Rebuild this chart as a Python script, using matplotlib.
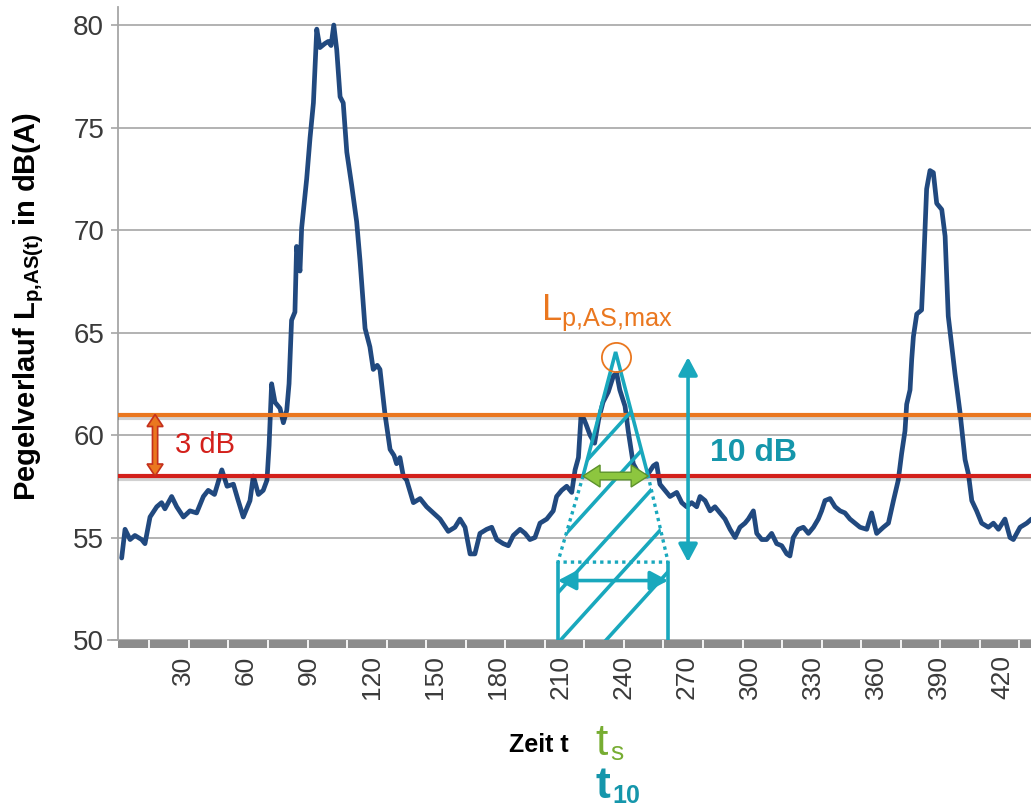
import numpy as np
import matplotlib
matplotlib.use("Agg")
import matplotlib.pyplot as plt
from matplotlib.patches import Polygon, FancyArrowPatch
from matplotlib.transforms import IdentityTransform
from matplotlib import font_manager
import matplotlib.patheffects as pe

plt.rcParams["font.family"] = ["Liberation Sans", "DejaVu Sans"]
plt.rcParams["mathtext.fontset"] = "custom"
plt.rcParams["mathtext.rm"] = "Liberation Sans"
plt.rcParams["mathtext.it"] = "Liberation Sans"
plt.rcParams["mathtext.bf"] = "Liberation Sans:bold"

_names = {f.name for f in font_manager.fontManager.ttflist}
NARROW = "Liberation Sans Narrow" if "Liberation Sans Narrow" in _names else "Liberation Sans"

# ---- measured sound level L_p,AS(t) ----
time_s = [0.8, 2.4, 4.8, 7.1, 10.3, 11.9, 14.3, 17.5, 19.8, 21.4, 24.6, 27.0, 30.2,
          33.3, 36.5, 39.7, 42.0, 45.0, 48.5, 51.0, 54.0, 56.0, 58.7, 61.9, 63.5,
          65.9, 68.2, 70.0, 71.0, 72.2, 73.8, 76.2, 77.8, 79.4, 80.5, 81.7, 83.3,
          84.1, 85.7, 86.5, 88.9, 90.5, 92.1, 93.7, 95.2, 97.6, 99.2, 100.5, 101.8,
          103.2, 104.8, 106.3, 108.0, 110.3, 112.7, 114.3, 116.7, 119.0, 120.6,
          122.5, 123.8, 126.2, 128.6, 130.5, 131.7, 133.3, 134.9, 136.5, 139.7,
          142.9, 146.0, 149.2, 152.4, 156.3, 159.5, 161.9, 164.3, 166.7, 169.0,
          171.4, 174.6, 177.0, 179.4, 182.5, 184.9, 187.3, 190.5, 192.9, 195.2,
          197.6, 200.0, 203.2, 206.3, 207.9, 210.3, 212.7, 215.1, 216.7, 218.3,
          219.5, 220.8, 222.0, 223.8, 226.0, 228.0, 230.0, 232.5, 235.0, 236.5,
          238.0, 240.5, 242.0, 244.4, 247.6, 250.8, 254.0, 255.5, 257.1, 259.5,
          261.9, 265.1, 267.5, 269.8, 272.2, 274.6, 276.2, 278.6, 281.0, 283.3,
          285.7, 288.1, 290.5, 292.9, 295.2, 297.6, 299.2, 301.6, 303.2, 305.6,
          307.9, 310.3, 312.7, 315.1, 317.5, 319.0, 320.6, 323.0, 325.4, 327.8,
          330.2, 332.5, 334.1, 335.7, 338.1, 340.5, 342.9, 345.2, 347.6, 350.0,
          352.4, 355.6, 357.9, 360.3, 363.5, 365.9, 368.3, 370.6, 372.2, 373.8,
          374.6, 376.2, 377.0, 377.8, 379.4, 381.7, 382.5, 384.1, 385.7, 387.3,
          388.9, 391.3, 392.9, 394.4, 397.6, 400.0, 402.4, 404.0, 405.6, 407.9,
          410.3, 413.5, 415.9, 418.3, 421.4, 423.8, 425.4, 428.6, 431.8, 434.0]
level_db = [54.0, 55.4, 54.9, 55.1, 54.9, 54.7, 56.0, 56.5, 56.7, 56.4, 57.0, 56.5, 56.0,
            56.3, 56.2, 57.0, 57.3, 57.1, 58.3, 57.5, 57.6, 56.9, 56.0, 56.8, 58.0,
            57.1, 57.3, 57.8, 59.5, 62.5, 61.6, 61.3, 60.6, 61.2, 62.5, 65.6, 66.0,
            69.2, 68.0, 70.1, 72.5, 74.5, 76.2, 79.8, 78.9, 79.1, 79.2, 79.0, 80.0,
            78.8, 76.5, 76.2, 73.8, 72.2, 70.4, 68.5, 65.2, 64.3, 63.2,
            63.4, 63.2, 61.0, 59.3, 59.0, 58.6, 58.9, 58.0, 57.8, 56.7,
            56.9, 56.5, 56.2, 55.9, 55.3, 55.5, 55.9, 55.5, 54.2, 54.2,
            55.2, 55.4, 55.5, 54.9, 54.7, 54.6, 55.1, 55.4, 55.2, 54.9,
            55.0, 55.7, 55.9, 56.3, 57.0, 57.3, 57.5, 57.2, 58.3, 58.9,
            60.9, 60.8, 60.5, 60.0, 59.6, 60.8, 61.6, 62.1, 62.9, 63.0,
            62.2, 61.4, 60.2, 58.6, 58.0, 58.0, 58.5, 58.6, 57.6, 57.3,
            57.0, 57.2, 56.7, 56.5, 56.7, 56.5, 57.0, 56.8, 56.3, 56.5,
            56.2, 55.9, 55.4, 55.0, 55.5, 55.7, 55.9, 56.3, 55.2, 54.9,
            54.9, 55.2, 54.7, 54.6, 54.2, 54.1, 55.0, 55.4, 55.5, 55.2,
            55.5, 55.9, 56.3, 56.8, 56.9, 56.5, 56.3, 56.2, 55.9, 55.7,
            55.5, 55.4, 56.2, 55.2, 55.5, 55.7, 56.8, 57.8, 59.1, 60.2,
            61.5, 62.2, 63.7, 64.8, 65.9, 66.1, 67.9, 72.0, 72.9, 72.8,
            71.3, 71.0, 69.7, 65.8, 63.0, 61.1, 58.8, 58.1, 56.8, 56.3,
            55.7, 55.5, 55.7, 55.4, 55.9, 55.0, 54.9, 55.5, 55.7, 55.9]

x_ticks = list(range(30, 421, 30))
y_ticks = [50, 55, 60, 65, 70, 75, 80]

# characteristic levels / times of the marked event
L_REF = 61.0            # orange reference level
L_THR = L_REF - 3.0     # red threshold, 3 dB below
L_MAX = 63.8            # L_p,AS,max of the event
T_MAX = 236.0
L_10 = L_MAX - 10.0     # 10 dB below maximum
TS = (220.5, 251.5)     # t_s: time above the threshold
T10 = (208.5, 261.0)    # t_10: time within 10 dB of the maximum

BLUE = "#21497F"
ORANGE = "#EA771F"
RED = "#D3201B"
TEAL = "#19A8BD"
TEAL_TXT = "#1596AB"
GREEN = "#8DC63F"
GREEN_EDGE = "#5C922B"
GRID = "#A6A6A6"

W, H = 1031, 809
fig = plt.figure(figsize=(W / 100, H / 100), dpi=100)
fig.patch.set_facecolor("white")
ax = fig.add_axes([118 / W, 169 / H, 913 / W, 633 / H])
ax.set_xlim(-0.95, 433.8)
ax.set_ylim(50, 80.88)


def fpx(x, y):
    return x / W, 1 - y / H


def block_arrow(p0, p1, body, head, head_len, fc, ec, lw, z):
    """Double-headed block arrow between two data points, sizes in pixels."""
    a = ax.transData.transform(p0)
    b = ax.transData.transform(p1)
    u = (b - a) / np.hypot(*(b - a))
    n = np.array([-u[1], u[0]])
    pts = [a,
           a + u * head_len + n * head, a + u * head_len + n * body,
           b - u * head_len + n * body, b - u * head_len + n * head,
           b,
           b - u * head_len - n * head, b - u * head_len - n * body,
           a + u * head_len - n * body, a + u * head_len - n * head]
    poly = Polygon(pts, closed=True, transform=IdentityTransform(),
                   facecolor=fc, edgecolor=ec, lw=lw, zorder=z, clip_on=False,
                   joinstyle="miter")
    ax.add_artist(poly)


# axes styling
for s in ("top", "right", "bottom"):
    ax.spines[s].set_visible(False)
ax.spines["left"].set_color(GRID)
ax.spines["left"].set_linewidth(1.3)
ax.set_yticks(y_ticks)
ax.set_xticks(x_ticks)
ax.yaxis.grid(True, color=GRID, lw=1.2)
ax.set_axisbelow(True)
ax.tick_params(axis="y", length=5, width=1.2, color=GRID, labelsize=20,
               labelcolor="#3a3a3a", pad=5)
ax.tick_params(axis="x", length=0, labelsize=19, labelcolor="#3a3a3a",
               labelrotation=90, pad=11)

# thick grey category band along the bottom with white separators
band_h = 8 / 633
xt = ax.get_xaxis_transform()
ax.add_patch(plt.Rectangle((-0.95, -band_h), 434.75, band_h, transform=xt,
                           facecolor="#8C8C8C", edgecolor="none", clip_on=False))
sep = np.arange(14.0, 432.0, 18.83)
ax.vlines(sep, -band_h, 0, transform=xt, colors="white", lw=1.3, clip_on=False)
ax.plot([-5.5, -0.95], [50, 50], color=GRID, lw=1.3, clip_on=False)

# level curve
ax.plot(time_s, level_db, color=BLUE, lw=3.4, solid_joinstyle="round",
        solid_capstyle="round", zorder=4)

# reference and threshold lines
shadow = [pe.SimpleLineShadow(offset=(0, -2.5), shadow_color="black", alpha=0.18),
          pe.Normal()]
ax.axhline(L_REF, color=ORANGE, lw=3.0, zorder=5, path_effects=shadow)
ax.axhline(L_THR, color=RED, lw=3.0, zorder=5, path_effects=shadow)

# 3 dB marker
block_arrow((16.7, L_THR), (16.7, L_REF), body=2.6, head=8.0, head_len=12,
            fc=ORANGE, ec="#C4301D", lw=1.2, z=7)
ax.text(26.0, (L_REF + L_THR) / 2, "3 dB", color=RED, fontsize=21,
        va="center", ha="left", zorder=7)

# hatched event region: triangle, dotted trapezoid and t_10 band
apex = (T_MAX, L_MAX + 0.25)
shape = Polygon([apex, (TS[1], L_THR), (T10[1], L_10), (T10[1], 50),
                 (T10[0], 50), (T10[0], L_10), (TS[0], L_THR)],
                closed=True, facecolor="none", edgecolor="none",
                transform=ax.transData)
ax.add_patch(shape)
slope = 0.113
for k in range(5):
    base = L_THR - 0.8 - 2.45 * k
    tt = np.array([T10[0] - 20, T10[1] + 40])
    hl, = ax.plot(tt, base + slope * (tt - T10[0]), color=TEAL, lw=2.6,
                  solid_capstyle="butt", zorder=6)
    hl.set_clip_path(shape)

ax.plot([TS[0], apex[0], TS[1]], [L_THR, apex[1], L_THR], color=TEAL, lw=2.6,
        solid_joinstyle="miter", zorder=6)
ax.plot([TS[0], T10[0], T10[1], TS[1]], [L_THR, L_10, L_10, L_THR],
        color=TEAL, lw=2.4, ls=(0, (1.0, 1.2)), zorder=6)
for tv in T10:
    ax.plot([tv, tv], [50, L_10], color=TEAL, lw=2.6, zorder=6,
            solid_capstyle="butt", clip_on=False)

teal_arrow = dict(arrowstyle="<|-|>,head_length=0.6,head_width=0.32",
                  mutation_scale=18, color=TEAL, lw=2.6, shrinkA=0, shrinkB=0,
                  zorder=7)
ax.add_patch(FancyArrowPatch((T10[0], 52.9), (T10[1], 52.9), **teal_arrow))
ax.add_patch(FancyArrowPatch((270.5, L_MAX), (270.5, L_10), **teal_arrow))

# t_s arrow
block_arrow((TS[0], L_THR), (TS[1], L_THR), body=3.8, head=11.0, head_len=17,
            fc=GREEN, ec=GREEN_EDGE, lw=1.0, z=8)

# maximum marker and labels
ax.plot(T_MAX, L_MAX, "o", ms=21, mfc="none", mec=ORANGE, mew=1.3, zorder=8)
ax.text(232.0, 65.6, r"$\mathregular{L_{p{,}AS{,}max}}$", color=ORANGE, fontsize=26,
        ha="center", va="baseline", zorder=8)
ax.text(281.0, 59.1, "10 dB", color=TEAL_TXT, fontsize=23, fontweight="bold",
        ha="left", va="center", zorder=8)

# axis titles
fig.text(*fpx(29, 307), r"Pegelverlauf $\mathbf{L_{p{,}AS(t)}}$ in dB(A)",
         rotation=90, ha="center", va="center", fontsize=21, fontweight="bold")
fig.text(*fpx(569, 745), "Zeit t", family=NARROW, fontsize=18, fontweight="bold",
         ha="right", va="center")
fig.text(*fpx(595, 755), "t", family=NARROW, fontsize=32, color="#77AD32",
         ha="left", va="baseline")
fig.text(*fpx(610, 760), "s", family=NARROW, fontsize=19, color="#77AD32",
         ha="left", va="baseline")
fig.text(*fpx(596, 798), "t", family=NARROW, fontsize=32, fontweight="bold",
         color=TEAL_TXT, ha="left", va="baseline")
fig.text(*fpx(612, 803), "10", family=NARROW, fontsize=18, fontweight="bold",
         color=TEAL_TXT, ha="left", va="baseline")

fig.savefig("out.png", dpi=100)
